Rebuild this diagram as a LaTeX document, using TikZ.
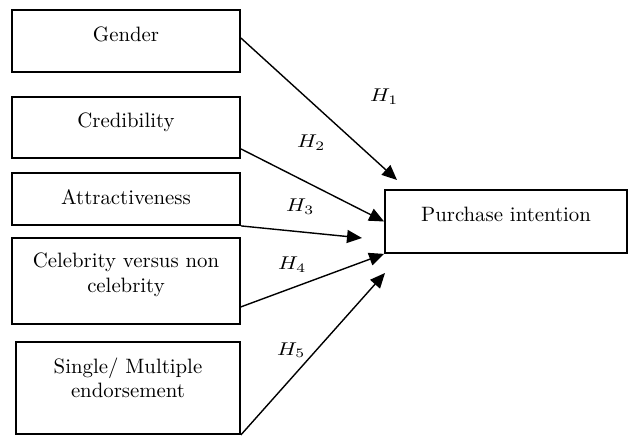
\documentclass[tikz,border=0pt]{standalone}
\usepackage{graphicx}
\usetikzlibrary{arrows.meta,calc}
\newcommand{\boxtxt}[1]{\scalebox{2.08}{\fontsize{10}{11.8}\selectfont\begin{tabular}[t]{@{}c@{}}#1\end{tabular}}}
\newcommand{\hyptxt}[1]{\scalebox{2.2}[1.85]{\fontsize{10}{12}\selectfont$#1$}}
\begin{document}
\begin{tikzpicture}[x=1pt,y=1pt,
  box/.style={draw,line width=1.8pt,rectangle,inner sep=0pt},
  lbl/.style={anchor=base,inner sep=0pt},
  hyp/.style={anchor=base west,inner sep=0pt},
  arr/.style={line width=1.4pt,-{Triangle[length=15pt,width=13pt]}}]
\useasboundingbox (0,0) rectangle (628,436);
% boxes
\node[box,minimum width=228,minimum height=62] (gender) at (126,395) {};
\node[box,minimum width=228,minimum height=61] (cred) at (126,308.5) {};
\node[box,minimum width=228,minimum height=52] (attr) at (126,237) {};
\node[box,minimum width=228,minimum height=86] (celeb) at (126,155) {};
\node[box,minimum width=224,minimum height=92] (single) at (128,48) {};
\node[box,minimum width=242,minimum height=63] (pi) at (506,214.5) {};
% texts
\node[lbl] (tgender) at (126,394) {\boxtxt{Gender}};
\node[lbl] (tcred) at (126,308) {\boxtxt{Credibility}};
\node[lbl] (tattr) at (126,231) {\boxtxt{Attractiveness}};
\node[lbl] (tceleb) at (126,168) {\boxtxt{Celebrity versus non\\celebrity}};
\node[lbl] (tsingle) at (128,63) {\boxtxt{Single/ Multiple\\endorsement}};
\node[lbl] (tpi) at (506,214) {\boxtxt{Purchase intention}};
% arrow end points
\coordinate (e1) at (397,256);
\coordinate (e3) at (362,198);
\coordinate (e5) at (385,163);
\coordinate (s1) at ([yshift=3pt]gender.east);
\coordinate (s2) at ([yshift=10pt]cred.south east);
\coordinate (s4) at ([yshift=18pt]celeb.south east);
% arrows
\draw[arr] (s1) -- (e1);
\draw[arr] (s2) -- (pi.west);
\draw[arr] (attr.south east) -- (e3);
\draw[arr] (s4) -- (pi.south west);
\draw[arr] (single.south east) -- (e5);
% hypothesis labels
\node[hyp] (h1) at (370,334) {\hyptxt{H_1}};
\node[hyp] (h2) at (297,288) {\hyptxt{H_2}};
\node[hyp] (h3) at (286,224) {\hyptxt{H_3}};
\node[hyp] (h4) at (278,166) {\hyptxt{H_4}};
\node[hyp] (h5) at (277,81) {\hyptxt{H_5}};
\end{tikzpicture}
\end{document}
